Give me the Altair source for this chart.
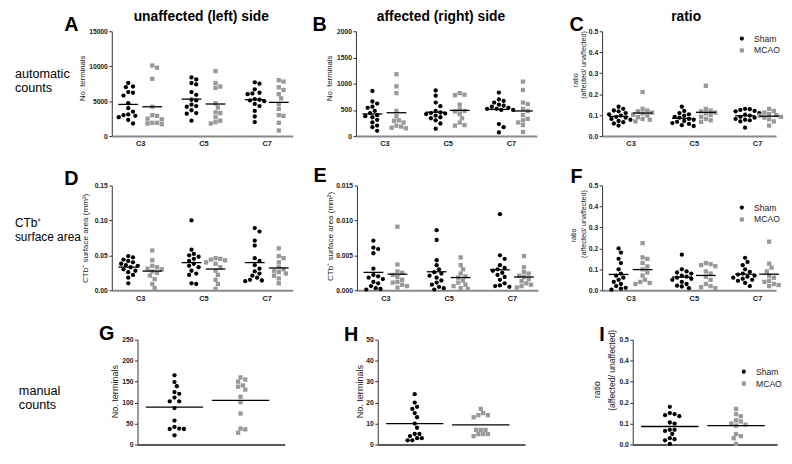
import altair as alt
import pandas as pd

FONT = "Liberation Sans"
CATS = ["C3", "C5", "C7"]
GROUPS = ["Sham", "MCAO"]
COLORS = ["#000000", "#999999"]

COL_TITLES = ["unaffected (left) side", "affected (right) side", "ratio"]
ROW_LABELS = [["automatic", "counts"], ["CTb\u207a", "surface area"], ["manual", "counts"]]
LETTERS = ["A", "B", "C", "D", "E", "F", "G", "H", "I"]
T_TERM = "No. terminals"
T_AREA = "CTb\u207a surface area (mm\u00b2)"
T_RATIO = "ratio"
T_RATIO2 = "(affected/ unaffected)"

# ---- data, per C3, C5, C7 ----
A_SHAM = [[7600, 7100, 7000, 6300, 5800, 6200, 4700, 4000, 3500, 3100, 2900, 2700, 3000, 1800, 2300],
          [8400, 8100, 7600, 7400, 6300, 5900, 5200, 5100, 4500, 4300, 4200, 3300, 3200, 2200, 3700],
          [7700, 7500, 6700, 6200, 6100, 6000, 5300, 5200, 5100, 5000, 4600, 4300, 3600, 2800, 2000]]
A_MCAO = [[10100, 9800, 8200, 4200, 3000, 2900, 2500, 2400, 1900, 1800, 1700, 1900],
          [9300, 7600, 7100, 6900, 4700, 4100, 3400, 3300, 2700, 2200, 1800, 2000],
          [8000, 7800, 7000, 6600, 6000, 5400, 4600, 3900, 3000, 2900, 1900, 800]]
B_SHAM = [[860, 660, 620, 560, 540, 480, 440, 400, 380, 360, 310, 260, 200, 170, 100],
          [870, 770, 640, 570, 480, 450, 440, 430, 420, 390, 360, 340, 300, 240, 140],
          [830, 700, 670, 640, 600, 580, 560, 540, 520, 520, 500, 500, 230, 170, 70]]
B_MCAO = [[1180, 950, 820, 480, 380, 300, 290, 260, 200, 180, 160, 150],
          [820, 790, 780, 600, 510, 480, 470, 420, 340, 260, 210, 200],
          [1040, 880, 640, 610, 520, 480, 400, 330, 300, 260, 210, 80]]
C_SHAM = [[0.14, 0.13, 0.122, 0.118, 0.11, 0.104, 0.098, 0.092, 0.088, 0.082, 0.078, 0.072, 0.066, 0.06, 0.05],
          [0.14, 0.12, 0.11, 0.104, 0.098, 0.092, 0.088, 0.082, 0.078, 0.072, 0.068, 0.062, 0.058, 0.052, 0.048],
          [0.13, 0.128, 0.125, 0.12, 0.118, 0.11, 0.102, 0.098, 0.092, 0.088, 0.082, 0.078, 0.075, 0.07, 0.04]]
C_MCAO = [[0.21, 0.13, 0.122, 0.118, 0.112, 0.108, 0.102, 0.098, 0.09, 0.082, 0.078, 0.07],
          [0.24, 0.13, 0.122, 0.118, 0.112, 0.108, 0.1, 0.092, 0.082, 0.075, 0.068],
          [0.13, 0.12, 0.112, 0.105, 0.1, 0.098, 0.092, 0.088, 0.08, 0.07, 0.05]]
D_SHAM = [[0.049, 0.047, 0.044, 0.042, 0.040, 0.038, 0.036, 0.035, 0.033, 0.030, 0.028, 0.026, 0.022, 0.018, 0.010],
          [0.100, 0.058, 0.052, 0.050, 0.048, 0.045, 0.042, 0.038, 0.035, 0.033, 0.028, 0.024, 0.022, 0.010, 0.009],
          [0.089, 0.084, 0.071, 0.064, 0.046, 0.042, 0.036, 0.031, 0.027, 0.024, 0.021, 0.018, 0.015, 0.014, 0.013]]
D_MCAO = [[0.057, 0.043, 0.035, 0.033, 0.031, 0.030, 0.027, 0.025, 0.021, 0.016, 0.009, 0.003],
          [0.046, 0.045, 0.044, 0.043, 0.040, 0.038, 0.033, 0.028, 0.022, 0.015, 0.009, 0.002],
          [0.060, 0.049, 0.046, 0.040, 0.033, 0.030, 0.028, 0.026, 0.024, 0.021, 0.017, 0.010]]
E_SHAM = [[0.0071, 0.0061, 0.0059, 0.0053, 0.0031, 0.0022, 0.0020, 0.0018, 0.0016, 0.0012, 0.0010, 0.0006, 0.0003, 0.0002, 0.0001],
          [0.0086, 0.0072, 0.0043, 0.0036, 0.0030, 0.0026, 0.0024, 0.0021, 0.0018, 0.0014, 0.0011, 0.0008, 0.0005, 0.0003, 0.0001],
          [0.0109, 0.0050, 0.0045, 0.0036, 0.0032, 0.0030, 0.0028, 0.0025, 0.0022, 0.0019, 0.0015, 0.0010, 0.0007, 0.0006, 0.0005]]
E_MCAO = [[0.0091, 0.0037, 0.0027, 0.0025, 0.0022, 0.0019, 0.0015, 0.0012, 0.0011, 0.0008, 0.0006, 0.0004],
          [0.0047, 0.0036, 0.0030, 0.0024, 0.0020, 0.0018, 0.0014, 0.0011, 0.0008, 0.0006, 0.0003, 0.0002],
          [0.0049, 0.0033, 0.0026, 0.0024, 0.0021, 0.0019, 0.0016, 0.0013, 0.0010, 0.0008, 0.0006, 0.0004]]
F_SHAM = [[0.20, 0.18, 0.15, 0.13, 0.10, 0.08, 0.07, 0.06, 0.05, 0.04, 0.03, 0.02, 0.012, 0.008, 0.003],
          [0.17, 0.10, 0.09, 0.085, 0.08, 0.07, 0.065, 0.06, 0.055, 0.05, 0.04, 0.03, 0.022, 0.018, 0.01],
          [0.155, 0.135, 0.12, 0.10, 0.088, 0.08, 0.075, 0.07, 0.065, 0.06, 0.055, 0.05, 0.045, 0.035, 0.02]]
F_MCAO = [[0.225, 0.157, 0.150, 0.130, 0.114, 0.100, 0.085, 0.070, 0.050, 0.040, 0.035, 0.030],
          [0.13, 0.125, 0.12, 0.115, 0.09, 0.08, 0.065, 0.05, 0.03, 0.02, 0.015, 0.01],
          [0.232, 0.127, 0.108, 0.09, 0.07, 0.06, 0.045, 0.04, 0.03, 0.025, 0.02]]
G_SHAM = [165, 149, 139, 125, 121, 112, 103, 103, 87, 57, 42, 38, 37, 37, 22]
G_MCAO = [160, 155, 150, 141, 138, 131, 114, 101, 74, 38, 36, 28]
H_SHAM = [24, 20, 18, 17, 15, 13, 10, 8, 5, 5, 4, 3, 3, 2, 2]
H_MCAO = [17, 15, 14, 14, 13, 7, 7, 7, 5, 5, 5, 4]
I_SHAM = [0.18, 0.15, 0.145, 0.14, 0.135, 0.105, 0.10, 0.07, 0.07, 0.065, 0.05, 0.03, 0.025, 0.02, 0.003]
I_MCAO = [0.17, 0.145, 0.135, 0.115, 0.11, 0.10, 0.095, 0.09, 0.05, 0.04, 0.03, 0.003]

# ---- layout ----
PH = 106
TOP = [21, 28, 28]      # space reserved above each row's plots
BOT = [22, 22, 1]       # space reserved below each row's plots
UNIT3, UNIT2 = 64.0, 67.0
XDOM3 = [-0.45, 2.41]
XDOM3R = [-0.45, 2.30]
XDOM2 = [-0.56, 1.67]
XDOM2R = [-0.56, 1.62]


def wpx(dom, unit):
    return round((dom[1] - dom[0]) * unit)


def swarm(values, ymax, unit_px, diam=4.6, step=2.4):
    n = len(values)
    order = sorted(range(n), key=lambda i: -values[i])
    placed, offs = [], [0.0] * n
    cands = [0]
    for j in range(1, 14):
        cands += [j, -j]
    for i in order:
        yp = values[i] / ymax * PH
        xp = 0
        for c in cands:
            xp = c * step
            if all((xp - px) ** 2 + (yp - py) ** 2 >= diam ** 2 for px, py in placed):
                break
        placed.append((xp, yp))
        offs[i] = xp / unit_px
    return offs


def build(sham, mcao, centers, ymax, unit_px):
    rows = []
    for ci, (s, m) in enumerate(zip(sham, mcao)):
        for g, series, cx in (("Sham", s, centers[ci][0]), ("MCAO", m, centers[ci][1])):
            for v, o in zip(series, swarm(series, ymax, unit_px)):
                rows.append({"group": g, "value": v, "gx": cx, "x": cx + o})
    return pd.DataFrame(rows)


def txt(text, x, y, size, weight="normal", align="left", baseline="alphabetic", angle=None, lh=None, color="black"):
    kw = dict(text=text, fontSize=size, fontWeight=weight, align=align, baseline=baseline, font=FONT, color=color)
    if angle is not None:
        kw["angle"] = angle
    if lh is not None:
        kw["lineHeight"] = lh
    return alt.Chart(pd.DataFrame({"a": [0]})).mark_text(**kw).encode(x=alt.value(x), y=alt.value(y))


def panel(df, ymax, yticks, yfmt, ytitle, tfs, tx, ty, xdom, unit, three, legend_xy=None, extra=()):
    width = wpx(xdom, unit)
    if legend_xy is not None:
        leg = alt.Legend(orient="none", legendX=legend_xy[0], legendY=legend_xy[1], title=None,
                         labelFont=FONT, labelFontSize=8.7, labelColor="#222", symbolSize=18,
                         labelOffset=8, rowPadding=2, symbolStrokeWidth=0)
    else:
        leg = None
    if three:
        xaxis = alt.Axis(values=[0, 1, 2], labelExpr="['C3','C5','C7'][datum.value]", title=None,
                         ticks=False, grid=False, domainColor="#8a8a8a", domainWidth=2,
                         labelFontSize=7.5, labelFontWeight="bold", labelColor="#222", labelPadding=4,
                         labelOverlap=False, labelFlush=False)
    else:
        xaxis = alt.Axis(labels=False, ticks=False, grid=False, title=None,
                         domainColor="#222", domainWidth=1.5)
    yaxis = alt.Axis(values=yticks, format=yfmt, title=ytitle, grid=False, tickSize=3,
                     tickColor="#333", domainColor="#333", labelFontSize=6.8, labelFontWeight="bold",
                     labelColor="#222", labelPadding=1.5, labelOverlap=False, labelFlush=False,
                     titleFontSize=tfs, titleFontWeight="normal",
                     titleColor="#222", titleX=tx, titleY=ty, titleAngle=270, titleAlign="center",
                     titleBaseline="middle")
    xs = alt.Scale(domain=xdom, nice=False, zero=False)
    ys = alt.Scale(domain=[0, ymax], nice=False)
    base = alt.Chart(df)
    pts = base.mark_point(filled=True, opacity=1, size=19).encode(
        x=alt.X("x:Q", scale=xs, axis=xaxis),
        y=alt.Y("value:Q", scale=ys, axis=yaxis),
        color=alt.Color("group:N", scale=alt.Scale(domain=GROUPS, range=COLORS), legend=leg),
        shape=alt.Shape("group:N", scale=alt.Scale(domain=GROUPS, range=["circle", "square"]), legend=leg),
    )
    means = base.mark_tick(orient="horizontal", size=20 if three else 58, thickness=1.3, color="black").encode(
        x=alt.X("gx:Q", scale=xs, axis=xaxis), y=alt.Y("mean(value):Q", scale=ys, axis=yaxis),
        detail="group:N")
    return alt.layer(pts, means, *extra).properties(width=width, height=PH)


def spacer(w, extra=()):
    b = alt.Chart(pd.DataFrame({"a": [0]})).mark_point(opacity=0).encode(x=alt.value(0), y=alt.value(0))
    return alt.layer(b, *extra).properties(width=w, height=PH)


def lead(w, r, label, lx, ly, lh, fs):
    # invisible vertical guide that fixes the vertical extent reserved for the row
    guide = alt.Chart(pd.DataFrame({"a": [0]})).mark_rule(opacity=0, color="white").encode(
        x=alt.value(0), y=alt.value(-TOP[r]), y2=alt.value(PH + BOT[r]))
    return spacer(w, [guide, txt(label, lx, ly, fs, lh=lh)])


C3C = [(i - 0.19, i + 0.19) for i in range(3)]
C2C = [(0, 1)]

dA = build(A_SHAM, A_MCAO, C3C, 15000, UNIT3)
dB = build(B_SHAM, B_MCAO, C3C, 2000, UNIT3)
dC = build(C_SHAM, C_MCAO, C3C, 0.5, UNIT3)
dD = build(D_SHAM, D_MCAO, C3C, 0.15, UNIT3)
dE = build(E_SHAM, E_MCAO, C3C, 0.015, UNIT3)
dF = build(F_SHAM, F_MCAO, C3C, 0.5, UNIT3)
dG = build([G_SHAM], [G_MCAO], C2C, 250, UNIT2)
dH = build([H_SHAM], [H_MCAO], C2C, 50, UNIT2)
dI = build([I_SHAM], [I_MCAO], C2C, 0.5, UNIT2)

ratio_ticks = [0, 0.1, 0.2, 0.3, 0.4, 0.5]
LS = 20
TT = -TOP[0]

pA = panel(dA, 15000, [0, 5000, 10000, 15000], "d", T_TERM, 7.8, -30, 47, XDOM3, UNIT3, True, extra=[
    txt(LETTERS[0], -48, 0, LS, "bold"),
    txt(COL_TITLES[0], 90.5, TT, 14, "bold", align="center", baseline="top")])
pB = panel(dB, 2000, [0, 500, 1000, 1500, 2000], "d", T_TERM, 7.8, -26.5, 47, XDOM3, UNIT3, True, extra=[
    txt(LETTERS[1], -44, 0, LS, "bold"),
    txt(COL_TITLES[1], 86, TT, 14, "bold", align="center", baseline="top")])
pC = panel(dC, 0.5, ratio_ticks, ".1f", T_RATIO, 7.3, -26.5, 49, XDOM3R, UNIT3, True, legend_xy=(137, 3), extra=[
    txt(LETTERS[2], -33, 0, LS, "bold"),
    txt(COL_TITLES[2], 85, TT, 14, "bold", align="center", baseline="top"),
    txt(T_RATIO2, -18, 34, 7.3, align="center", baseline="middle", angle=270, color="#222")])
pD = panel(dD, 0.15, [0, 0.05, 0.10, 0.15], ".2f", T_AREA, 8.2, -27, 53, XDOM3, UNIT3, True, extra=[
    txt(LETTERS[3], -48, -1, LS, "bold")])
pE = panel(dE, 0.015, [0, 0.005, 0.010, 0.015], ".3f", T_AREA, 8.2, -27, 51, XDOM3, UNIT3, True, extra=[
    txt(LETTERS[4], -44, -4, LS, "bold")])
pF = panel(dF, 0.5, ratio_ticks, ".1f", T_RATIO, 7.3, -29, 50, XDOM3R, UNIT3, True, legend_xy=(137, 18), extra=[
    txt(LETTERS[5], -32, -3, LS, "bold"),
    txt(T_RATIO2, -18, 39, 7.3, align="center", baseline="middle", angle=270, color="#222")])
pG = panel(dG, 250, [0, 50, 100, 150, 200, 250], "d", T_TERM, 9.2, -23, 52, XDOM2, UNIT2, False, extra=[
    txt(LETTERS[6], -39, 0, LS, "bold")])
pH = panel(dH, 50, [0, 10, 20, 30, 40, 50], "d", T_TERM, 9.2, -18.5, 52, XDOM2, UNIT2, False, extra=[
    txt(LETTERS[7], -34, 1, LS, "bold")])
pI = panel(dI, 0.5, ratio_ticks, ".1f", T_RATIO, 8.7, -37, 50, XDOM2R, UNIT2, False, legend_xy=(108, 28), extra=[
    txt(LETTERS[8], -34, 1, LS, "bold"),
    txt(T_RATIO2, -21, 31, 8.7, align="center", baseline="middle", angle=270, color="#222")])


def row(cells):
    return alt.hconcat(*cells, spacing=0, bounds="flush").resolve_scale(
        x="independent", y="independent", color="independent", shape="independent")


row1 = row([lead(102, 0, ROW_LABELS[0], 4, 47, 14.5, 12.8), pA, spacer(64), pB, spacer(66), pC])
row2 = row([lead(102, 1, ROW_LABELS[1], 4, 42, 14, 12), pD, spacer(65), pE, spacer(65), pF])
row3 = row([lead(128, 2, ROW_LABELS[2], 8, 56, 14, 12.8), pG, spacer(94), pH, spacer(109), pI])

chart = alt.vconcat(row1, row2, row3, spacing=0).resolve_scale(
    x="independent", y="independent", color="independent", shape="independent"
).properties(
    padding={"left": 0, "top": 0, "right": 0, "bottom": 0}
).configure(font=FONT, background="white").configure_view(stroke=None).configure_axis(labelOverlap=False)

chart.save("out.html", embed_options={"renderer": "svg", "actions": False})
